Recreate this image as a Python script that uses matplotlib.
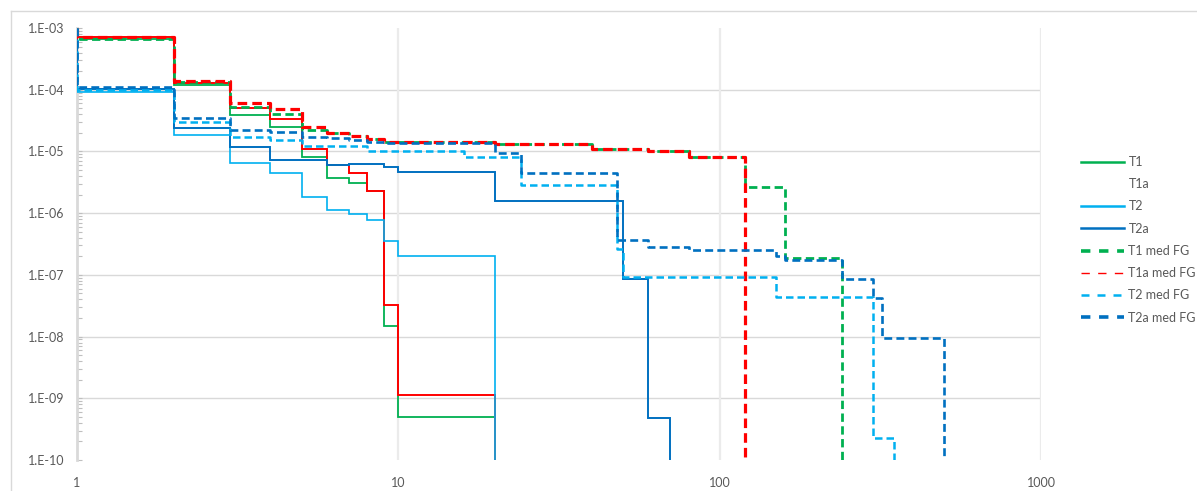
import numpy as np
import matplotlib
matplotlib.use("Agg")
import matplotlib.pyplot as plt
from matplotlib.lines import Line2D
from matplotlib.ticker import FuncFormatter, NullFormatter, FixedLocator

plt.rcParams['font.family'] = ['Lato', 'DejaVu Sans']

# ---- data: step edges (x) and the level held between consecutive edges ----
t1_edges = [1, 2, 3, 4, 5, 6, 7, 8, 9, 10, 20]
t1_vals = [6.6e-4, 1.19e-4, 3.9e-5, 2.5e-5, 8.2e-6, 3.7e-6, 3.1e-6, 2.3e-6, 1.5e-8, 4.9e-10]

t1a_edges = [1, 2, 3, 4, 5, 6, 7, 8, 9, 10, 20]
t1a_vals = [7.2e-4, 1.27e-4, 5.0e-5, 3.4e-5, 1.08e-5, 6.0e-6, 4.4e-6, 2.3e-6, 3.3e-8, 1.13e-9]

t2_edges = [1, 2, 3, 4, 5, 6, 7, 8, 9, 10, 20]
t2_vals = [9.3e-5, 1.85e-5, 6.4e-6, 4.5e-6, 1.85e-6, 1.12e-6, 9.7e-7, 7.6e-7, 3.6e-7, 2.0e-7]

t2a_edges = [1, 2, 3, 4, 6, 7, 9, 10, 20, 50, 60, 70]
t2a_vals = [1.03e-4, 2.36e-5, 1.17e-5, 7.2e-6, 6.0e-6, 6.2e-6, 5.5e-6, 4.6e-6, 1.59e-6, 8.5e-8, 4.8e-10]

t1fg_edges = [1, 2, 3, 4, 5, 6, 7, 8, 9, 20, 40, 60, 80, 120, 160, 240]
t1fg_vals = [6.6e-4, 1.33e-4, 5.3e-5, 4.0e-5, 2.2e-5, 1.96e-5, 1.78e-5, 1.58e-5, 1.41e-5,
             1.30e-5, 1.10e-5, 1.03e-5, 8.0e-6, 2.7e-6, 1.86e-7]

t1afg_edges = [1, 2, 3, 4, 5, 6, 7, 8, 9, 20, 40, 60, 80, 120]
t1afg_vals = [7.2e-4, 1.40e-4, 6.2e-5, 4.9e-5, 2.5e-5, 1.96e-5, 1.78e-5, 1.58e-5, 1.41e-5,
              1.30e-5, 1.10e-5, 1.03e-5, 8.0e-6]

t2fg_edges = [1, 2, 3, 4, 5, 8, 16, 24, 48, 50, 150, 300, 350]
t2fg_vals = [1.0e-4, 2.95e-5, 1.7e-5, 1.53e-5, 1.23e-5, 1.0e-5, 8.2e-6, 2.85e-6, 2.6e-7,
             9.3e-8, 4.4e-8, 2.24e-10]

t2afg_edges = [1, 2, 3, 4, 5, 6, 7, 8, 9, 20, 24, 48, 60, 80, 150, 160, 240, 300, 320, 500]
t2afg_vals = [1.12e-4, 3.5e-5, 2.2e-5, 2.1e-5, 1.74e-5, 1.63e-5, 1.53e-5, 1.44e-5, 1.35e-5,
              9.5e-6, 4.5e-6, 3.65e-7, 2.85e-7, 2.55e-7, 2.0e-7, 1.74e-7, 8.5e-8, 4.2e-8, 9.5e-9]

labels = ["T1", "T1a", "T2", "T2a", "T1 med FG", "T1a med FG", "T2 med FG", "T2a med FG"]
x_ticks = [1, 10, 100, 1000]
y_exponents = list(range(-10, -2))

GREEN = "#00B050"
RED = "#FF0000"
LBLUE = "#00B0F0"
DBLUE = "#0070C0"
GRID = "#D9D9D9"
TXT = "#595959"

Y_TOP = 1e-3
Y_FLOOR = 1e-13


def stairs(edges, vals):
    """Staircase path: start at the top, hold each level between its edges, drop off at the end."""
    xs, ys = [edges[0]], [Y_TOP]
    for i, v in enumerate(vals):
        xs += [edges[i], edges[i + 1]]
        ys += [v, v]
    xs.append(edges[-1])
    ys.append(Y_FLOOR)
    return xs, ys


W, H = 1197, 491
fig = plt.figure(figsize=(W / 100, H / 100), dpi=100)
ax = fig.add_axes([77 / W, 1 - 460 / H, (1041 - 77) / W, (460 - 28) / H])

ax.set_xscale("log")
ax.set_yscale("log")
ax.set_xlim(x_ticks[0], x_ticks[-1])
ax.set_ylim(10.0 ** y_exponents[0], 10.0 ** y_exponents[-1])

# grid
for d in y_exponents[1:-1]:
    ax.axhline(10.0 ** d, color=GRID, lw=1.0, zorder=0)
for d in x_ticks[1:]:
    ax.axvline(d, color="#EBEBEB", lw=1.6, zorder=0)

dash_thick = (3.0, 1.6)
series = [
    (t1_edges, t1_vals, GREEN, 1.3, "-"),
    (t1a_edges, t1a_vals, RED, 1.4, "-"),
    (t2_edges, t2_vals, LBLUE, 1.2, "-"),
    (t2a_edges, t2a_vals, DBLUE, 1.4, "-"),
    (t1fg_edges, t1fg_vals, GREEN, 2.0, "--"),
    (t1afg_edges, t1afg_vals, RED, 2.3, "--"),
    (t2fg_edges, t2fg_vals, LBLUE, 1.8, "--"),
    (t2afg_edges, t2afg_vals, DBLUE, 1.9, "--"),
]
for k, (e, v, c, lw, ls) in enumerate(series):
    xs, ys = stairs(e, v)
    line, = ax.plot(xs, ys, color=c, lw=lw, ls=ls, solid_joinstyle="miter",
                    solid_capstyle="butt", zorder=2 + k)
    if ls == "--":
        line.set_dashes(dash_thick)

# axes styling
for s in ("top", "right", "bottom"):
    ax.spines[s].set_visible(False)
ax.spines["left"].set_color(GRID)
ax.spines["left"].set_linewidth(2.0)

major_y = [10.0 ** d for d in y_exponents]
minor_y = [m * 10.0 ** d for d in y_exponents[:-1] for m in range(2, 10)]
ax.yaxis.set_major_locator(FixedLocator(major_y))
ax.yaxis.set_minor_locator(FixedLocator(minor_y))
ax.yaxis.set_minor_formatter(NullFormatter())
ax.yaxis.set_major_formatter(FuncFormatter(lambda v, _: "1.E-%02d" % int(round(-np.log10(v)))))
ax.tick_params(axis="y", which="both", direction="in", length=3.5, width=0.8,
               color="#BFBFBF", labelcolor=TXT, labelsize=9, pad=9)

ax.xaxis.set_major_locator(FixedLocator(x_ticks))
ax.xaxis.set_minor_locator(FixedLocator([]))
ax.xaxis.set_minor_formatter(NullFormatter())
ax.xaxis.set_major_formatter(FuncFormatter(lambda v, _: "%d" % int(round(v))))
ax.tick_params(axis="x", which="both", length=0, labelcolor=TXT, labelsize=9, pad=12)

# legend
handles = [
    Line2D([], [], color=GREEN, lw=1.8),
    Line2D([], [], color="none", lw=1.8),
    Line2D([], [], color=LBLUE, lw=1.8),
    Line2D([], [], color=DBLUE, lw=1.8),
    Line2D([], [], color=GREEN, lw=2.6, ls=(0, (2.6, 2.4))),
    Line2D([], [], color=RED, lw=1.0, ls=(0, (6, 6))),
    Line2D([], [], color=LBLUE, lw=1.8, ls=(0, (3.2, 3.2))),
    Line2D([], [], color=DBLUE, lw=2.6, ls=(0, (2.6, 2.4))),
]
leg = fig.legend(handles, labels, loc="upper left", bbox_to_anchor=(1081 / W, 1 - 156 / H),
                 frameon=False, fontsize=9, labelcolor=TXT, handlelength=3.4,
                 handletextpad=0.4, labelspacing=0.82, borderpad=0, borderaxespad=0)

# chart-area frame (top and left edges)
fig.add_artist(Line2D([11 / W, 1.0], [1 - 11 / H, 1 - 11 / H], transform=fig.transFigure,
                      color=GRID, lw=1.0))
fig.add_artist(Line2D([11 / W, 11 / W], [0.0, 1 - 11 / H], transform=fig.transFigure,
                      color=GRID, lw=1.0))

fig.savefig("out.png", dpi=100, facecolor="white")
